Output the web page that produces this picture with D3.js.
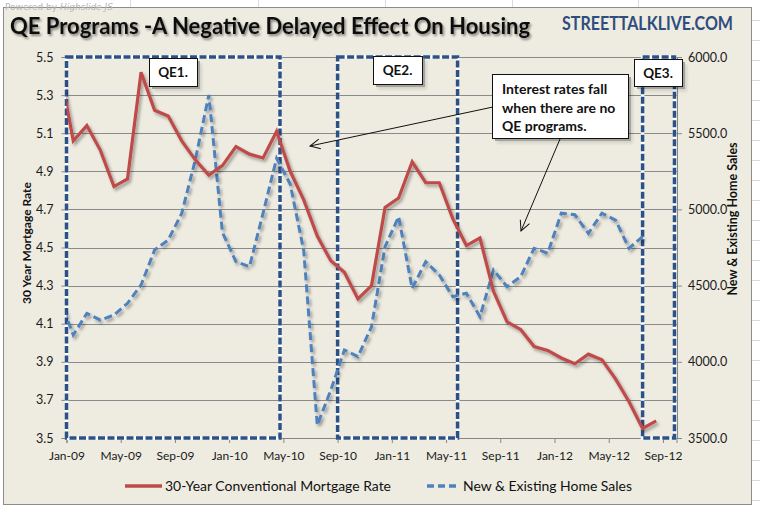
<!DOCTYPE html>
<html><head><meta charset="utf-8">
<script src="https://cdn.jsdelivr.net/npm/d3@7"></script>
<style>
body{margin:0;background:#fff;}
svg{display:block;font-family:Lato,"Open Sans",sans-serif;}
</style>
</head><body>
<svg id="chart" width="760" height="515"></svg>
<script>
// ---------- data (monthly, first value = Dec-08, partially clipped at the left edge) ----------
const firstMonth = -1; // Dec-08 relative to Jan-09
const mortgageRate = [5.44,
  5.06,5.14,5.01,4.82,4.86,5.42,5.22,5.19,5.06,4.96,4.88,4.93,
  5.03,4.99,4.97,5.11,4.90,4.75,4.56,4.43,4.37,4.23,4.30,4.71,
  4.76,4.95,4.84,4.84,4.65,4.51,4.55,4.27,4.11,4.07,3.98,3.96,
  3.92,3.89,3.94,3.91,3.81,3.69,3.55,3.59];
const homeSales = [4416,
  4176,4318,4274,4307,4384,4504,4734,4799,4974,5324,5751,4850,
  4657,4624,4975,5335,5167,4730,3585,3815,4077,4034,4230,4755,
  4952,4482,4657,4570,4427,4450,4296,4602,4493,4558,4745,4712,
  4975,4965,4843,4975,4930,4745,4821];
const xTickLabels = ["Jan-09","May-09","Sep-09","Jan-10","May-10","Sep-10","Jan-11","May-11","Sep-11","Jan-12","May-12","Sep-12"];
const xTickStep = 4;
const leftTicks = [3.5,3.7,3.9,4.1,4.3,4.5,4.7,4.9,5.1,5.3,5.5];
const rightTicks = [3500,4000,4500,5000,5500,6000];
const qeNames = ["QE1.","QE2.","QE3."];
const qeStart = [0, 20, 42.5];      // in months from Jan-09
const qeEnd   = [15.75, 28.85, 44.85];
const seriesNames = ["30-Year Conventional Mortgage Rate","New & Existing Home Sales"];

// ---------- layout ----------
const svg = d3.select("#chart");
const plot = {left:66.5, right:677, top:57, bottom:438};
const totalMonths = 45;
const x = d3.scaleLinear().domain([0,totalMonths]).range([plot.left, 676.5]);
const yL = d3.scaleLinear().domain([3.5,5.5]).range([plot.bottom, plot.top]);
const yR = d3.scaleLinear().domain([3500,6000]).range([plot.bottom, plot.top]);
const red = "#be4b48", blue = "#4f81bd", qeColor = "#2b5186";

const defs = svg.append("defs");
const sh = defs.append("filter").attr("id","shadow").attr("x","-10%").attr("y","-10%").attr("width","130%").attr("height","130%");
sh.append("feDropShadow").attr("dx",2).attr("dy",2.5).attr("stdDeviation",1.6).attr("flood-color","#000").attr("flood-opacity",0.35);
const tsh = defs.append("filter").attr("id","tshadow").attr("x","-5%").attr("y","-20%").attr("width","110%").attr("height","150%");
tsh.append("feDropShadow").attr("dx",1.5).attr("dy",2).attr("stdDeviation",1.3).attr("flood-color","#000").attr("flood-opacity",0.45);
defs.append("clipPath").attr("id","plotclip").append("rect")
  .attr("x",plot.left).attr("y",0).attr("width",plot.right-plot.left).attr("height",515);

// Excel sheet grid outside the chart
const sheet = svg.append("g").attr("stroke","#dadada").attr("stroke-width",1);
[130,258,385,512,638].forEach(v=>sheet.append("line").attr("x1",v+0.5).attr("x2",v+0.5).attr("y1",0).attr("y2",7));
d3.range(20,515,20).forEach(v=>sheet.append("line").attr("x1",752).attr("x2",760).attr("y1",v+0.5).attr("y2",v+0.5));

// chart area
svg.append("rect").attr("x",3.5).attr("y",7.5).attr("width",748).attr("height",497)
  .attr("fill","#eeece1").attr("stroke","#8c8c8c").attr("stroke-width",1);

// watermark
const wm = svg.append("text").attr("x",5).attr("y",10).attr("font-size",9).attr("fill","#b5b5b5")
  .attr("font-family","'DejaVu Sans',sans-serif");
wm.append("tspan").text("Powered by ");
wm.append("tspan").attr("font-style","italic").text("Highslide JS");

// title
svg.append("text").attr("x",10).attr("y",33.5).attr("font-size",22.5).attr("font-weight","bold")
  .attr("fill","#111").attr("filter","url(#tshadow)").attr("textLength",520).attr("lengthAdjust","spacingAndGlyphs")
  .text("QE Programs -A Negative Delayed Effect On Housing");
svg.append("text").attr("x",562).attr("y",30).attr("font-size",18).attr("font-weight","bold")
  .attr("fill","#2f4d7e").attr("textLength",171).attr("lengthAdjust","spacingAndGlyphs").text("STREETTALKLIVE.COM");

// gridlines
svg.append("g").selectAll("line").data(leftTicks).join("line")
  .attr("x1",plot.left).attr("x2",plot.right)
  .attr("y1",d=>Math.round(yL(d))+0.5).attr("y2",d=>Math.round(yL(d))+0.5)
  .attr("stroke","#8a8a8a").attr("stroke-width",1);

// axes
const fmt1 = d3.format(".1f");
const gL = svg.append("g").attr("transform",`translate(${plot.left},0)`)
  .call(d3.axisLeft(yL).tickValues(leftTicks).tickFormat(fmt1).tickSize(5).tickPadding(8));
const gR = svg.append("g").attr("transform",`translate(${plot.right},0)`)
  .call(d3.axisRight(yR).tickValues(rightTicks).tickFormat(fmt1).tickSize(5).tickPadding(6));
const xTickVals = xTickLabels.map((d,i)=>i*xTickStep);
const gX = svg.append("g").attr("transform",`translate(0,${plot.bottom})`)
  .call(d3.axisBottom(x).tickValues(xTickVals).tickFormat((d,i)=>xTickLabels[i]).tickSize(5).tickPadding(8));
[gL,gR,gX].forEach(g=>{
  g.select(".domain").attr("stroke","#868686");
  g.selectAll(".tick line").attr("stroke","#868686");
  g.selectAll("text").attr("fill","#1a1a1a").attr("font-size",12.5).attr("font-family","Lato,sans-serif");
});
gX.selectAll("text").attr("font-size",12);

// axis titles
svg.append("text").attr("transform","translate(31,243) rotate(-90)").attr("text-anchor","middle")
  .attr("font-size",12).attr("font-weight","bold").attr("fill","#111").text("30 Year Mortgage Rate");
svg.append("text").attr("transform","translate(737,219) rotate(-90)").attr("text-anchor","middle")
  .attr("font-size",12.5).attr("font-weight","bold").attr("fill","#111").text("New & Existing Home Sales");

// QE boxes
const qeData = qeNames.map((n,i)=>({name:n,s:qeStart[i],e:qeEnd[i]}));
const qeG = svg.append("g");
qeG.selectAll("rect.bg").data(qeData).join("rect").attr("class","bg")
  .attr("x",d=>x(d.s)).attr("y",yL(5.5)).attr("width",d=>x(d.e)-x(d.s)).attr("height",yL(3.5)-yL(5.5))
  .attr("fill","none").attr("stroke","#ffffff").attr("stroke-width",3.5);
qeG.selectAll("rect.fg").data(qeData).join("rect").attr("class","fg")
  .attr("x",d=>x(d.s)).attr("y",yL(5.5)).attr("width",d=>x(d.e)-x(d.s)).attr("height",yL(3.5)-yL(5.5))
  .attr("fill","none").attr("stroke",qeColor).attr("stroke-width",3.5).attr("stroke-dasharray","7,2.5");

// lines
const lines = svg.append("g").attr("clip-path","url(#plotclip)");
const rateLine = d3.line().x((d,i)=>x(firstMonth+i+0.5)).y(d=>yL(d));
const salesLine = d3.line().x((d,i)=>x(firstMonth+i+0.5)).y(d=>yR(d));
lines.append("path").datum(homeSales).attr("d",salesLine).attr("fill","none")
  .attr("stroke",blue).attr("stroke-width",3).attr("stroke-dasharray","8,4").attr("filter","url(#shadow)");
lines.append("path").datum(mortgageRate).attr("d",rateLine).attr("fill","none")
  .attr("stroke",red).attr("stroke-width",3.2).attr("stroke-linejoin","miter").attr("filter","url(#shadow)");

// label boxes
function labelBox(x0,y0,w,h,lines,opts={}){
  const g = svg.append("g");
  g.append("rect").attr("x",x0+3).attr("y",y0+3).attr("width",w).attr("height",h).attr("fill","#000").attr("opacity",0.3)
    .attr("filter","url(#shadow)");
  g.append("rect").attr("x",x0+0.5).attr("y",y0+0.5).attr("width",w).attr("height",h).attr("fill","#fff").attr("stroke","#111").attr("stroke-width",1);
  lines.forEach((t,i)=>{
    g.append("text").attr("x",opts.left? x0+opts.left : x0+w/2).attr("y",y0+(opts.first||19)+i*(opts.lh||18.5))
      .attr("text-anchor",opts.left?"start":"middle").attr("font-size",opts.fs||13.5).attr("font-weight","bold")
      .attr("fill","#111").text(t);
  });
}
labelBox(149,58,48,28,[qeNames[0]]);
labelBox(373,56,49,28,[qeNames[1]]);
labelBox(634,59,48,27,[qeNames[2]]);

// arrows
const ah = defs.append("marker").attr("id","arrow").attr("viewBox","0 0 12 12").attr("refX",11).attr("refY",6)
  .attr("markerWidth",12).attr("markerHeight",12).attr("markerUnits","userSpaceOnUse").attr("orient","auto");
ah.append("path").attr("d","M1,1 L11,6 L1,11").attr("fill","none").attr("stroke","#111").attr("stroke-width",1);
svg.append("line").attr("x1",493).attr("y1",107).attr("x2",310).attr("y2",146)
  .attr("stroke","#111").attr("stroke-width",1).attr("marker-end","url(#arrow)");
svg.append("line").attr("x1",560).attr("y1",139).attr("x2",521).attr("y2",231)
  .attr("stroke","#111").attr("stroke-width",1).attr("marker-end","url(#arrow)");

labelBox(492,74,136,64,["Interest rates fall","when there are no","QE programs."],{left:10,first:20,lh:18.5,fs:14});

// legend
const lg = svg.append("g");
lg.append("line").attr("x1",125).attr("x2",162).attr("y1",486).attr("y2",486).attr("stroke",red).attr("stroke-width",3.5);
lg.append("text").attr("x",165).attr("y",491).attr("font-size",14).attr("fill","#111")
  .attr("textLength",226).attr("lengthAdjust","spacingAndGlyphs").text(seriesNames[0]);
lg.append("line").attr("x1",427).attr("x2",456).attr("y1",486).attr("y2",486).attr("stroke",blue).attr("stroke-width",3.5).attr("stroke-dasharray","7,4");
lg.append("text").attr("x",463).attr("y",491).attr("font-size",14).attr("fill","#111")
  .attr("textLength",169).attr("lengthAdjust","spacingAndGlyphs").text(seriesNames[1]);
</script>
</body></html>
